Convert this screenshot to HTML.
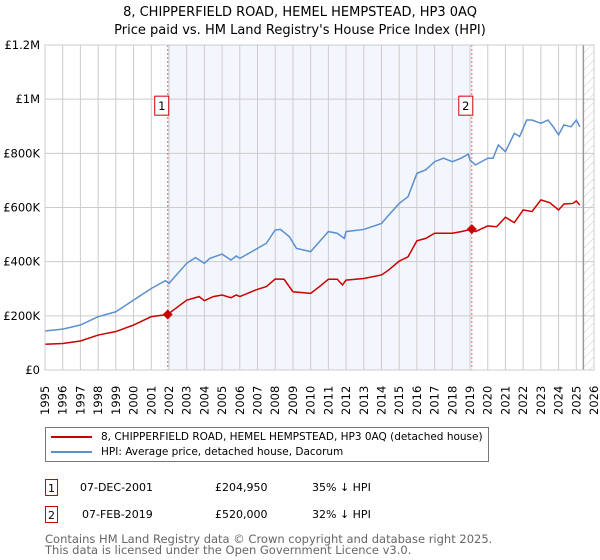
<!DOCTYPE html>
<html><head><meta charset="utf-8"><style>
body{margin:0;background:#fff;font-family:"DejaVu Sans","Liberation Sans",sans-serif;}
#wrap{position:relative;width:600px;height:560px;overflow:hidden;}
.t{position:absolute;font-size:11px;color:#000;white-space:nowrap;}
.box{position:absolute;border:1px solid #c00;width:13px;height:17px;font-size:11px;text-align:center;line-height:17px;box-sizing:border-box;}
</style></head><body>
<div id="wrap">
<svg id="chart" width="600" height="420" style="position:absolute;left:0;top:0"></svg>
<div style="position:absolute;left:45px;top:427px;width:444px;height:35px;border:1px solid #777;box-sizing:border-box;">
 <div style="position:absolute;left:5px;top:3px;font-size:10.5px;white-space:nowrap"><span style="display:inline-block;width:41px;height:2px;background:#c00;vertical-align:middle;margin-right:9px"></span>8, CHIPPERFIELD ROAD, HEMEL HEMPSTEAD, HP3 0AQ (detached house)</div>
 <div style="position:absolute;left:5px;top:18px;font-size:10.5px;white-space:nowrap"><span style="display:inline-block;width:41px;height:2px;background:#5b8fd0;vertical-align:middle;margin-right:9px"></span>HPI: Average price, detached house, Dacorum</div>
</div>
<div class="box" style="left:45px;top:479px">1</div>
<div class="t" style="left:80px;top:481px">07-DEC-2001</div>
<div class="t" style="left:215px;top:481px">£204,950</div>
<div class="t" style="left:312px;top:481px">35% ↓ HPI</div>
<div class="box" style="left:45px;top:506px">2</div>
<div class="t" style="left:82px;top:508px">07-FEB-2019</div>
<div class="t" style="left:215px;top:508px">£520,000</div>
<div class="t" style="left:312px;top:508px">32% ↓ HPI</div>
<div class="t" style="left:45px;top:534px;color:#666;line-height:11px;font-size:11.5px">Contains HM Land Registry data © Crown copyright and database right 2025.<br>This data is licensed under the Open Government Licence v3.0.</div>
</div>
<script>
const hpiYears=[1995,1996,1997,1998,1999,2000,2001,2001.8,2002,2003,2003.5,2004,2004.3,2005,2005.5,2005.8,2006,2007,2007.5,2008,2008.3,2008.8,2009.2,2010,2010.5,2011,2011.5,2011.9,2012,2013,2014,2014.3,2015,2015.5,2016,2016.5,2017,2017.5,2018,2018.5,2018.9,2019,2019.3,2020,2020.3,2020.6,2021,2021.5,2021.8,2022.2,2022.5,2023,2023.4,2023.7,2024,2024.3,2024.7,2025,2025.2];
const hpiValues=[144,151,166,197,215,258,301,330,320,394,415,394,412,428,406,421,412,449,468,517,519,492,449,437,474,511,505,486,511,519,541,564,615,640,726,739,769,782,769,782,797,775,757,782,782,831,806,874,862,923,923,911,923,898,868,905,898,923,898];
const ppYears=[1995,1996,1997,1998,1999,2000,2001,2001.93,2002,2003,2003.7,2004,2004.5,2005,2005.5,2005.8,2006,2007,2007.5,2008,2008.5,2009,2010,2010.5,2011,2011.5,2011.8,2012,2013,2014,2014.4,2015,2015.5,2016,2016.5,2017,2018,2018.5,2019.1,2019.3,2020,2020.5,2021,2021.5,2022,2022.5,2023,2023.5,2024,2024.3,2024.8,2025,2025.2];
const ppValues=[95,98,107,129,142,166,197,205,209,258,271,256,271,277,267,277,271,298,308,336,335,289,283,308,335,335,314,332,338,351,369,402,418,477,486,505,505,511,520,511,532,529,564,544,591,585,628,618,591,613,615,624,609];
const saleYears=[2001.93,2019.1];
const saleValues=[204.95,520];
const saleLabels=["1","2"];
const yTicks=[0,200,400,600,800,1000,1200];
const yTickLabels=["£0","£200K","£400K","£600K","£800K","£1M","£1.2M"];
const NS="http://www.w3.org/2000/svg";
const L=45,R=594,T=45,B=370;
const x=y=>L+(y-1995)*(R-L)/31;
const yv=v=>B-v*(B-T)/1200;
const svg=document.getElementById('chart');
function mk(tag,at,parent){const e=document.createElementNS(NS,tag);for(const k in at)e.setAttribute(k,at[k]);(parent||svg).appendChild(e);return e;}
let defs=mk('defs',{});
let pat=mk('pattern',{id:'hatch',width:6,height:6,patternUnits:'userSpaceOnUse',patternTransform:'rotate(45)'},defs);
mk('line',{x1:0,y1:0,x2:0,y2:6,stroke:'#ccc','stroke-width':1},pat);
let shade=mk('rect',{x:x(saleYears[0]),y:T,width:x(saleYears[1])-x(saleYears[0]),height:B-T,fill:'#f3f6fd'});


let hat=mk('rect',{x:x(2025.4),y:T,width:R-x(2025.4),height:B-T,fill:'url(#hatch)'});


for(let yr=1995;yr<=2026;yr++){
 let g=mk('line',{x1:x(yr),x2:x(yr),y1:T,y2:B,stroke:'#ccc','stroke-width':1});
 
 
 let t=mk('text',{x:0,y:0,transform:`translate(${x(yr)+4},415) rotate(-90)`,'font-size':11.5,'font-family':'DejaVu Sans, Liberation Sans, sans-serif',fill:'#000'});
 t.textContent=yr;
 
 
}
yTicks.forEach((v,i)=>{
 let g=mk('line',{x1:L,x2:R,y1:yv(v),y2:yv(v),stroke:'#ccc','stroke-width':1});
 
 
 let t=mk('text',{x:L-5,y:yv(v)+4,'text-anchor':'end','font-size':11.5,'font-family':'DejaVu Sans, Liberation Sans, sans-serif'});
 t.textContent=yTickLabels[i];
 
 
});
let vl=mk('line',{x1:x(2025.4),x2:x(2025.4),y1:T,y2:B,stroke:'#999','stroke-width':1.5});


saleYears.forEach((s,i)=>{
 let d=mk('line',{x1:x(s),x2:x(s),y1:T,y2:B,stroke:'#e66','stroke-width':1,'stroke-dasharray':'2,2'});
 
 
 let r=mk('rect',{x:x(s)-13,y:yv(1000)-3,width:14,height:19,fill:'#fff',stroke:'#c00','stroke-width':1});
 
 
 let t=mk('text',{x:x(s)-6,y:yv(1000)+11,'text-anchor':'middle','font-size':11.5,'font-family':'DejaVu Sans, sans-serif'});
 t.textContent=saleLabels[i];
});
let hp=mk('polyline',{points:hpiYears.map((y,i)=>x(y)+','+yv(hpiValues[i])).join(' '),fill:'none',stroke:'#5b8fd0','stroke-width':1.5});


let pp=mk('polyline',{points:ppYears.map((y,i)=>x(y)+','+yv(ppValues[i])).join(' '),fill:'none',stroke:'#c00','stroke-width':1.5});


saleYears.forEach((s,i)=>{
 let c=mk('path',{d:`M${x(s)},${yv(saleValues[i])-5} l5,5 l-5,5 l-5,-5 z`,fill:'#c00'});
 
 
});
mk('rect',{x:L,y:T,width:R-L,height:B-T,fill:'none',stroke:'#ccc','stroke-width':1});
let t1=mk('text',{x:300,y:16,'text-anchor':'middle','font-size':13,'font-family':'DejaVu Sans, sans-serif'});t1.textContent="8, CHIPPERFIELD ROAD, HEMEL HEMPSTEAD, HP3 0AQ";


let t2=mk('text',{x:300,y:34,'text-anchor':'middle','font-size':13,'font-family':'DejaVu Sans, sans-serif'});t2.textContent="Price paid vs. HM Land Registry's House Price Index (HPI)";


</script>
</body></html>
